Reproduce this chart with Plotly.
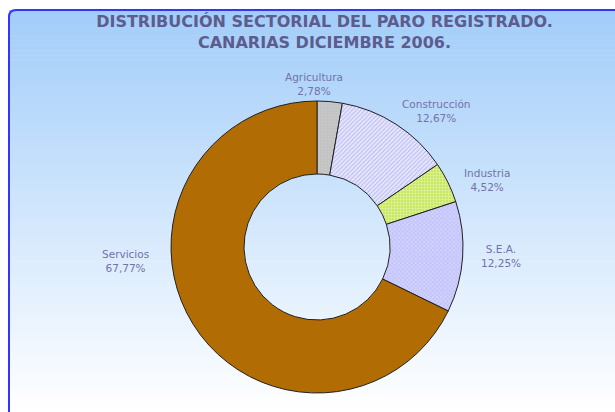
import plotly.graph_objects as go

sectores = ["Agricultura", "Construcción", "Industria", "S.E.A.", "Servicios"]
porcentajes = [2.78, 12.67, 4.52, 12.25, 67.77]
colores = ["#c2c2c2", "#e8e8ff", "#c8e864", "#c4c4fc", "#b26c04"]
patron_fg = ["#d0d0d0", "#9494e4", "#f4fcd8", "#f0f0ff", "#b26c04"]
patron_forma = [".", "/", "+", "x", ""]

# label anchor positions (window pixels)
etiqueta_x = [314, 436, 487, 501, 126]
etiqueta_y = [84, 111.5, 179.5, 255.5, 261]

W, H = 615, 412

def px(x):
    return x / W

def py(y):
    return 1 - y / H

def hexmix(c1, c2, t):
    a = [int(c1[i:i + 2], 16) for i in (1, 3, 5)]
    b = [int(c2[i:i + 2], 16) for i in (1, 3, 5)]
    return "#" + "".join(f"{round(a[k] + (b[k] - a[k]) * t):02x}" for k in range(3))

shapes = []
top, bottom, left = 10, 412, 9
n = 80
for i in range(n):
    y0 = top + (bottom - top) * i / n
    y1 = top + (bottom - top) * (i + 1) / n + 0.6
    shapes.append(dict(type="rect", xref="paper", yref="paper", layer="below",
                       x0=px(left), x1=1.0, y0=py(min(y1, H)), y1=py(y0),
                       fillcolor=hexmix("#a2cdf9", "#ffffff", i / (n - 1)),
                       line=dict(width=0)))
r = 7
frame_line = dict(color="#3434ff", width=2)
shapes.append(dict(type="line", xref="paper", yref="paper", layer="below",
                   x0=px(left + r), x1=1.0, y0=py(top), y1=py(top), line=frame_line))
shapes.append(dict(type="line", xref="paper", yref="paper", layer="below",
                   x0=px(left), x1=px(left), y0=py(top + r), y1=0, line=frame_line))
shapes.append(dict(type="path", xref="paper", yref="paper", layer="below",
                   path=f"M {px(left+r)},{py(top)} Q {px(left)},{py(top)} {px(left)},{py(top+r)}",
                   line=frame_line))

cx, cy, rad = 317, 247, 146
fig = go.Figure(go.Pie(
    labels=sectores,
    values=porcentajes,
    hole=0.5,
    sort=False,
    direction="clockwise",
    rotation=0,
    marker=dict(colors=colores,
                line=dict(color="#202020", width=1),
                pattern=dict(shape=patron_forma, fgcolor=patron_fg,
                             size=3, solidity=0.4, fillmode="overlay")),
    textinfo="none",
    hoverinfo="label+percent",
    showlegend=False,
    domain=dict(x=[px(cx - rad), px(cx + rad)], y=[py(cy + rad), py(cy - rad)]),
))

def fmt(v):
    return f"{v:.2f}".replace(".", ",") + "%"

annotations = []
for s, v, ex, ey in zip(sectores, porcentajes, etiqueta_x, etiqueta_y):
    annotations.append(dict(
        text=f"{s}<br>{fmt(v)}",
        xref="paper", yref="paper", x=px(ex), y=py(ey),
        xanchor="center", yanchor="middle", showarrow=False,
        font=dict(family="DejaVu Sans", size=10.5, color="#7272aa"),
    ))

fig.update_layout(
    width=W, height=H,
    margin=dict(l=0, r=0, t=0, b=0),
    paper_bgcolor="white",
    separators=",.",
    shapes=shapes,
    annotations=annotations,
    title=dict(text="DISTRIBUCIÓN SECTORIAL DEL PARO REGISTRADO.<br>CANARIAS DICIEMBRE 2006.",
               x=px(324.5), xanchor="center", y=py(27), yanchor="top",
               font=dict(family="DejaVu Sans", size=16, color="#5c5c8e", weight="bold")),
)

fig.write_html("out.html",
               config={"displayModeBar": False},
               post_script="document.body.style.margin='0';document.body.style.overflow='hidden';")
